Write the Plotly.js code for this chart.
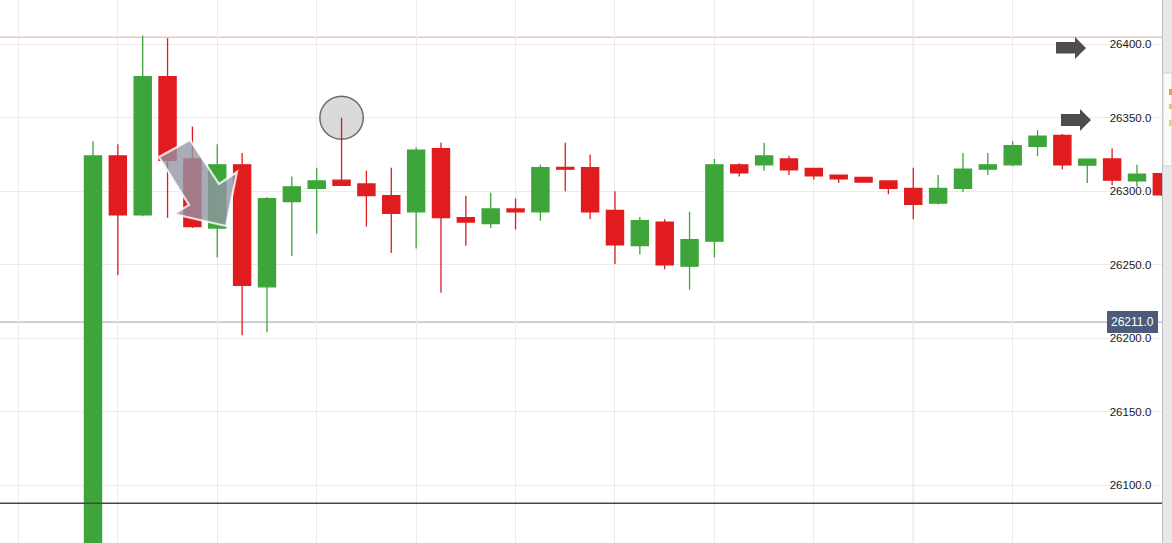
<!DOCTYPE html>
<html>
<head>
<meta charset="utf-8">
<script src="https://cdn.plot.ly/plotly-3.0.1.min.js"></script>
<style>
  html, body { margin: 0; padding: 0; background: #fff; }
  #priceChart { width: 1172px; height: 543px; }
</style>
</head>
<body>
<div id="priceChart"></div>
<script>
// candle slots (no time labels shown on the chart)
var slots = [0, 1, 2, 3, 4, 5, 6, 7, 8, 9, 10, 11, 12, 13, 14, 15, 16, 17, 18, 19, 20, 21,
             22, 23, 24, 25, 26, 27, 28, 29, 30, 31, 32, 33, 34, 35, 36, 37, 38, 39, 40, 41, 42, 43];

var openPx  = [26040, 26324, 26284, 26378, 26322, 26275, 26318, 26235, 26293, 26302, 26307.5,
               26305, 26297, 26286, 26329, 26282, 26278, 26288, 26286, 26316.3, 26316, 26287,
               26263, 26279, 26249, 26266, 26318, 26318, 26322, 26315.6, 26311, 26309.5, 26307,
               26302, 26292, 26302, 26315, 26318, 26330.6, 26338, 26317.7, 26322, 26307, 26312];
var highPx  = [26334, 26332, 26406, 26404, 26344, 26332, 26326, 26296, 26310, 26316, 26350,
               26314, 26316, 26330, 26333, 26297, 26299, 26295, 26318, 26333, 26325, 26300,
               26282.5, 26281, 26286, 26322, 26319, 26333, 26324, 26316, 26311, 26309.5, 26307,
               26316, 26311, 26326, 26326, 26334, 26341.5, 26339, 26322, 26329, 26318, 26312];
var lowPx   = [26030, 26243, 26283, 26282, 26275, 26255, 26202, 26204, 26256, 26271, 26304,
               26276, 26258, 26261, 26231, 26263, 26275, 26274, 26280, 26300, 26281, 26250.5,
               26257, 26247, 26233, 26255, 26310, 26314, 26311, 26308, 26305.6, 26306, 26298,
               26281, 26291, 26299.5, 26311, 26317, 26324, 26315, 26305.6, 26304, 26303, 26297];
var closePx = [26324, 26284, 26378, 26321, 26276, 26318, 26236, 26295, 26303, 26307, 26304,
               26297, 26285, 26328, 26282, 26279, 26288, 26286, 26316, 26315, 26286, 26263.5,
               26280, 26250, 26267, 26318, 26312.5, 26324, 26314.5, 26310.4, 26308.4, 26306.3, 26302,
               26291, 26302, 26315, 26318, 26331, 26337.4, 26318, 26321.8, 26307.5, 26311.6, 26297.5];

// drawn levels
var resistanceLevel = 26404.8;
var lastPrice = 26211.0;
var supportLevel = 26087.8;
var markedHigh = highPx[10];

var W = 1172, H = 543, plotW = 1162;
function px(x) { return x / plotW; }
function py(y) { return 1 - y / H; }
function poly(pts) {
    var d = pts.map(function(p, k) {
        return (k === 0 ? 'M' : 'L') + px(p[0]).toFixed(5) + ',' + py(p[1]).toFixed(5);
    });
    return d.join(' ') + ' Z';
}

var candles = {
    type: 'candlestick',
    x: slots,
    open: openPx,
    high: highPx,
    low: lowPx,
    close: closePx,
    increasing: { line: { color: '#3DA53A', width: 1.3 }, fillcolor: '#3DA53A' },
    decreasing: { line: { color: '#E01C1F', width: 1.3 }, fillcolor: '#E01C1F' },
    hoverinfo: 'skip',
    showlegend: false
};

var shapes = [
    // right side panel
    { type: 'rect', xref: 'paper', yref: 'paper', x0: 1, x1: W / plotW, y0: 0, y1: 1,
      fillcolor: '#E8E8EA', line: { width: 0 }, layer: 'below' },
    { type: 'rect', xref: 'paper', yref: 'paper', x0: px(1163), x1: W / plotW, y0: py(166), y1: py(73),
      fillcolor: '#FAFAFA', line: { color: '#CFCFD6', width: 1 }, layer: 'above' },
    { type: 'rect', xref: 'paper', yref: 'paper', x0: px(1169), x1: px(1172), y0: py(95), y1: py(89),
      fillcolor: '#E8A040', line: { width: 0 }, layer: 'above' },
    { type: 'rect', xref: 'paper', yref: 'paper', x0: px(1169), x1: px(1172), y0: py(109), y1: py(104),
      fillcolor: '#F0C060', line: { width: 0 }, layer: 'above' },
    { type: 'rect', xref: 'paper', yref: 'paper', x0: px(1169), x1: px(1172), y0: py(126), y1: py(120),
      fillcolor: '#F0D070', line: { width: 0 }, layer: 'above' },
    // session separator
    { type: 'line', xref: 'x', yref: 'paper', x0: 33, x1: 33, y0: 0, y1: 1,
      line: { color: '#D4D4DA', width: 1 }, layer: 'between' },
    // horizontal levels
    { type: 'line', xref: 'paper', yref: 'y', x0: 0, x1: 1, y0: resistanceLevel, y1: resistanceLevel,
      line: { color: '#EFA58E', width: 1 }, layer: 'between' },
    { type: 'line', xref: 'paper', yref: 'y', x0: 0, x1: 1, y0: lastPrice, y1: lastPrice,
      line: { color: '#98A0B2', width: 1 }, layer: 'between' },
    { type: 'line', xref: 'paper', yref: 'y', x0: 0, x1: 1, y0: supportLevel, y1: supportLevel,
      line: { color: '#474747', width: 1.5 }, layer: 'above' },
    // circle round the spike high
    { type: 'circle', xref: 'x', yref: 'y', xsizemode: 'pixel', ysizemode: 'pixel',
      xanchor: 10, yanchor: markedHigh, x0: -21.7, x1: 21.7, y0: -21.5, y1: 21.5,
      fillcolor: 'rgba(214,214,214,0.9)', line: { color: '#6A6A6A', width: 1.5 }, layer: 'between' },
    // big translucent arrow
    { type: 'path', xref: 'paper', yref: 'paper',
      path: poly([[159, 157], [190, 140], [219, 184], [237, 172], [226, 226], [174, 214], [189, 205]]),
      fillcolor: 'rgba(146,149,165,0.79)', line: { color: 'rgba(255,255,255,0.8)', width: 2.2 }, layer: 'above' },
    // right arrows
    { type: 'path', xref: 'paper', yref: 'paper',
      path: poly([[1056, 42], [1075, 42], [1075, 37], [1086, 48], [1075, 59], [1075, 53.5], [1056, 53.5]]),
      fillcolor: '#4D4D4D', line: { width: 0 }, layer: 'above' },
    { type: 'path', xref: 'paper', yref: 'paper',
      path: poly([[1061, 114], [1080, 114], [1080, 109], [1091, 120], [1080, 131], [1080, 126], [1061, 126]]),
      fillcolor: '#4D4D4D', line: { width: 0 }, layer: 'above' }
];

var annotations = [
    { xref: 'paper', yref: 'y', x: px(1132), y: lastPrice, xanchor: 'center', yanchor: 'middle',
      text: lastPrice.toFixed(1), showarrow: false,
      bgcolor: '#4A5B7B', bordercolor: '#4A5B7B', borderpad: 3,
      font: { family: 'Liberation Sans, Arial, sans-serif', size: 12, color: '#FFFFFF' } }
];

var layout = {
    width: W,
    height: H,
    margin: { l: 0, r: W - plotW, t: 0, b: 0 },
    paper_bgcolor: '#E8E8EA',
    plot_bgcolor: '#FFFFFF',
    showlegend: false,
    boxgap: 0.31,
    boxgroupgap: 0,
    dragmode: false,
    xaxis: {
        type: 'linear',
        range: [-3.741, 43.007],
        tick0: 1,
        dtick: 4,
        showticklabels: false,
        ticks: '',
        showgrid: true,
        gridcolor: '#EBEBEB',
        zeroline: false,
        rangeslider: { visible: false },
        fixedrange: true
    },
    yaxis: {
        side: 'right',
        range: [26060.7, 26430.1],
        tick0: 0,
        dtick: 50,
        tickformat: '.1f',
        ticklabelposition: 'inside',
        ticklabelstandoff: 10,
        ticks: '',
        showgrid: true,
        gridcolor: '#EBEBEB',
        zeroline: false,
        showline: true,
        linecolor: '#BDBDC5',
        linewidth: 1,
        tickfont: { family: 'Liberation Sans, Arial, sans-serif', size: 11.5, color: '#1A1A1A' },
        fixedrange: true
    },
    shapes: shapes,
    annotations: annotations
};

Plotly.newPlot('priceChart', [candles], layout, { displayModeBar: false, staticPlot: true });
</script>
</body>
</html>
